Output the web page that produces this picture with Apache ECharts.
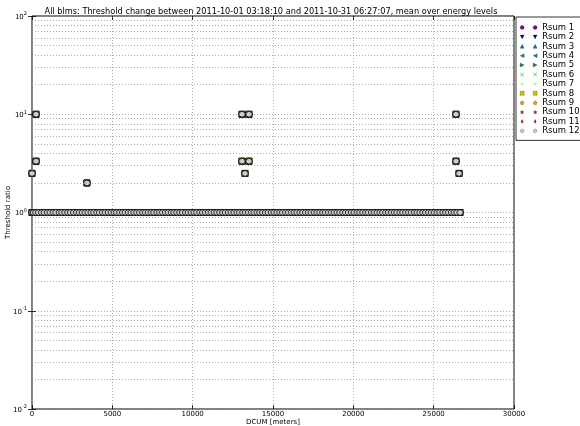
<!DOCTYPE html>
<html>
<head>
<meta charset="utf-8">
<script src="https://cdn.jsdelivr.net/npm/echarts@6/dist/echarts.min.js"></script>
<style>html,body{margin:0;padding:0;background:#fff}#c{width:580px;height:426px}</style>
</head>
<body>
<div id="c"></div>
<script>
// ---- data ----
var titleText = 'All blms: Threshold change between 2011-10-01 03:18:10 and 2011-10-31 06:27:07, mean over energy levels';
var seriesNames = ['Rsum 1','Rsum 2','Rsum 3','Rsum 4','Rsum 5','Rsum 6','Rsum 7','Rsum 8','Rsum 9','Rsum 10','Rsum 11','Rsum 12'];
// DCUM positions of monitors whose ratio stays at 1
var dcumUnity = [0,95,240,410,600,770,960,1130,1320,1490,1700,1860,2050,2230,2400,2590,2780,2950,3130,3310,3490,3680,3850,4040,4200,4390,4560,4750,4930,5110,5270,5460,5640,5810,6000,6170,6350,6530,6700,6890,7060,7240,7420,7590,7780,7950,8130,8310,8480,8670,8840,9020,9200,9370,9560,9730,9910,10090,10260,10450,10620,10800,10980,11150,11340,11510,11690,11870,12040,12230,12400,12580,12760,12930,13120,13290,13470,13650,13820,14010,14180,14360,14540,14710,14900,15070,15250,15430,15600,15790,15960,16140,16320,16490,16680,16850,17030,17210,17380,17570,17740,17920,18100,18270,18460,18630,18810,18990,19160,19350,19520,19700,19880,20050,20240,20410,20590,20770,20940,21130,21300,21480,21660,21830,22020,22190,22370,22550,22720,22910,23080,23260,23440,23610,23800,23970,24150,24330,24500,24690,24860,25040,25220,25390,25580,25750,25930,26110,26280,26450,26640];
// monitors with a changed ratio
var dcumChanged = [0, 250, 250, 3420, 13070, 13505, 13070, 13505, 13257, 26390, 26390, 26580];
var ratioChanged = [2.5, 10, 3.33, 2.0, 10, 10, 3.33, 3.33, 2.5, 10, 3.33, 2.5];
var xTicks = [0,5000,10000,15000,20000,25000,30000];
var yTicks = [0.01,0.1,1,10,100];

// ---- styles ----
var colors = ['#800090','#00008a','#0070d0','#008c99','#008a40','#55dd55','#66ee66','#c8c800','#f0a000','#b03010','#dd0000','#cccccc'];
var c = 2;
var shapes = [
  'circle',
  [[0,0],[4,0],[2,4]],
  [[2,0],[4,4],[0,4]],
  [[0,2],[4,0],[4,4]],
  [[0,0],[4,2],[0,4]],
  'x',
  'plus',
  [[0,0],[4,0],[4,4],[0,4]],
  [[2,0],[3.9,1.38],[3.18,3.62],[0.82,3.62],[0.1,1.38]],
  'star',
  [[2,0],[3.1,2],[2,4],[0.9,2]],
  [[2,0],[3.73,1],[3.73,3],[2,4],[0.27,3],[0.27,1]]
];
function poly(pts, dx){
  return pts.map(function(p,i){return (i?'L':'M')+(p[0]+dx).toFixed(2)+','+p[1].toFixed(2);}).join('')+'Z';
}
function starPts(){
  var pts=[];
  for(var i=0;i<10;i++){var r=i%2?0.85:2;var a=-Math.PI/2+i*Math.PI/5;pts.push([c+r*Math.cos(a),c+r*Math.sin(a)]);}
  return pts;
}
function shapePath(s, dx){
  if(s==='circle') return 'M'+(0+dx)+',2A2,2 0 1,0 '+(4+dx)+',2A2,2 0 1,0 '+(0+dx)+',2Z';
  if(s==='x') return poly([[0,0.45],[0.45,0],[4,3.55],[3.55,4]],dx)+poly([[3.55,0],[4,0.45],[0.45,4],[0,3.55]],dx);
  if(s==='plus') return poly([[1.75,0],[2.25,0],[2.25,1.75],[4,1.75],[4,2.25],[2.25,2.25],[2.25,4],[1.75,4],[1.75,2.25],[0,2.25],[0,1.75],[1.75,1.75]],dx);
  if(s==='star') return poly(starPts(),dx);
  return poly(s,dx);
}
function isUnfilled(i){ return shapes[i]==='x'||shapes[i]==='plus'; }
var unityData = dcumUnity.map(function(x){return [x,1];});
var changedData = dcumChanged.map(function(x,i){return [x, ratioChanged[i]];});
var allData = unityData.concat(changedData);

var minorVals = [];
[-2,-1,0,1].forEach(function(d){for(var m=2;m<=9;m++){minorVals.push(m*Math.pow(10,d));}});

var series = seriesNames.map(function(n,i){
  var u = isUnfilled(i);
  return {
    name:n, type:'scatter', data:allData,
    symbol:'path://'+shapePath(shapes[i],0),
    symbolSize:6, clip:false,
    itemStyle:{color:colors[i], borderColor: u?colors[i]:'#111', borderWidth: u?0:0.8, opacity:1},
    emphasis:{disabled:true}, animation:false
  };
});
series.push({
  type:'scatter', data:[], silent:true, animation:false,
  markLine:{silent:true, symbol:['none','none'], label:{show:false}, animation:false,
    lineStyle:{type:[1,2], color:'#999', width:0.8},
    data: minorVals.map(function(v){return {yAxis:v};})}
});

var legendData = seriesNames.map(function(n,i){
  var u = isUnfilled(i);
  return {name:n, icon:'path://'+shapePath(shapes[i],0)+shapePath(shapes[i],13),
    itemStyle:{color:colors[i], borderColor:u?colors[i]:'#333', borderWidth:u?0:0.3, opacity:1}};
});

function supLabel(v){
  var e = Math.round(Math.log10(v));
  return '{b|10}{s|'+e+'}';
}

var chart = echarts.init(document.getElementById('c'), null, {renderer:'canvas'});
chart.setOption({
  animation:false,
  backgroundColor:'#fff',
  textStyle:{fontFamily:'DejaVu Sans'},
  title:{text:titleText, left:266, top:3, textAlign:'center',
    textStyle:{fontSize:8.2, fontWeight:'normal', color:'#000', fontFamily:'DejaVu Sans'}},
  grid:{left:32, right:66, top:16, bottom:17, outerBoundsMode:'none', containLabel:false,
    show:true, borderColor:'#000', borderWidth:1, backgroundColor:'transparent'},
  legend:{orient:'vertical', left:516, top:17, data:legendData,
    itemWidth:17, itemHeight:4, itemGap:0.4,
    padding:[6,30,5,4], borderColor:'#000', borderWidth:0.8, backgroundColor:'#fff',
    textStyle:{fontSize:8.5, color:'#000', lineHeight:9, fontFamily:'DejaVu Sans'},
    selectedMode:false},
  xAxis:[{
    type:'value', min:xTicks[0], max:xTicks[xTicks.length-1], interval:5000,
    name:'DCUM [meters]', nameLocation:'middle', nameGap:9.5, nameMoveOverlap:false,
    nameTextStyle:{fontSize:7, color:'#000', verticalAlign:'top'},
    axisLine:{show:false},
    axisTick:{show:true, inside:true, length:4, lineStyle:{color:'#000', width:0.8}},
    axisLabel:{fontSize:7, color:'#000', margin:2, formatter:function(v){return String(v);}},
    splitLine:{show:true, lineStyle:{type:[1,2], color:'#999', width:0.8}}
  },{
    type:'value', position:'top', min:xTicks[0], max:xTicks[xTicks.length-1], interval:5000,
    axisLine:{show:false}, axisLabel:{show:false}, splitLine:{show:false},
    axisTick:{show:true, inside:true, length:4, lineStyle:{color:'#000', width:0.8}}
  }],
  yAxis:[{
    type:'log', logBase:10, min:yTicks[0], max:yTicks[yTicks.length-1],
    name:'Threshold ratio', nameLocation:'middle', nameGap:20, nameMoveOverlap:false,
    nameTextStyle:{fontSize:7, color:'#000'},
    axisLine:{show:false},
    axisTick:{show:true, inside:true, length:4, lineStyle:{color:'#000', width:0.8}},
    axisLabel:{color:'#000', margin:5, formatter:supLabel,
      rich:{b:{fontSize:7, color:'#000', verticalAlign:'bottom'}, s:{fontSize:5, color:'#000', verticalAlign:'top', padding:[0,0,4,0]}}},
    splitLine:{show:true, lineStyle:{type:[1,2], color:'#999', width:0.8}}
  },{
    type:'log', logBase:10, min:yTicks[0], max:yTicks[yTicks.length-1], position:'right',
    axisLine:{show:false}, axisLabel:{show:false}, splitLine:{show:false},
    axisTick:{show:true, inside:true, length:4, lineStyle:{color:'#000', width:0.8}}
  }],
  series:series
});
</script>
</body>
</html>
